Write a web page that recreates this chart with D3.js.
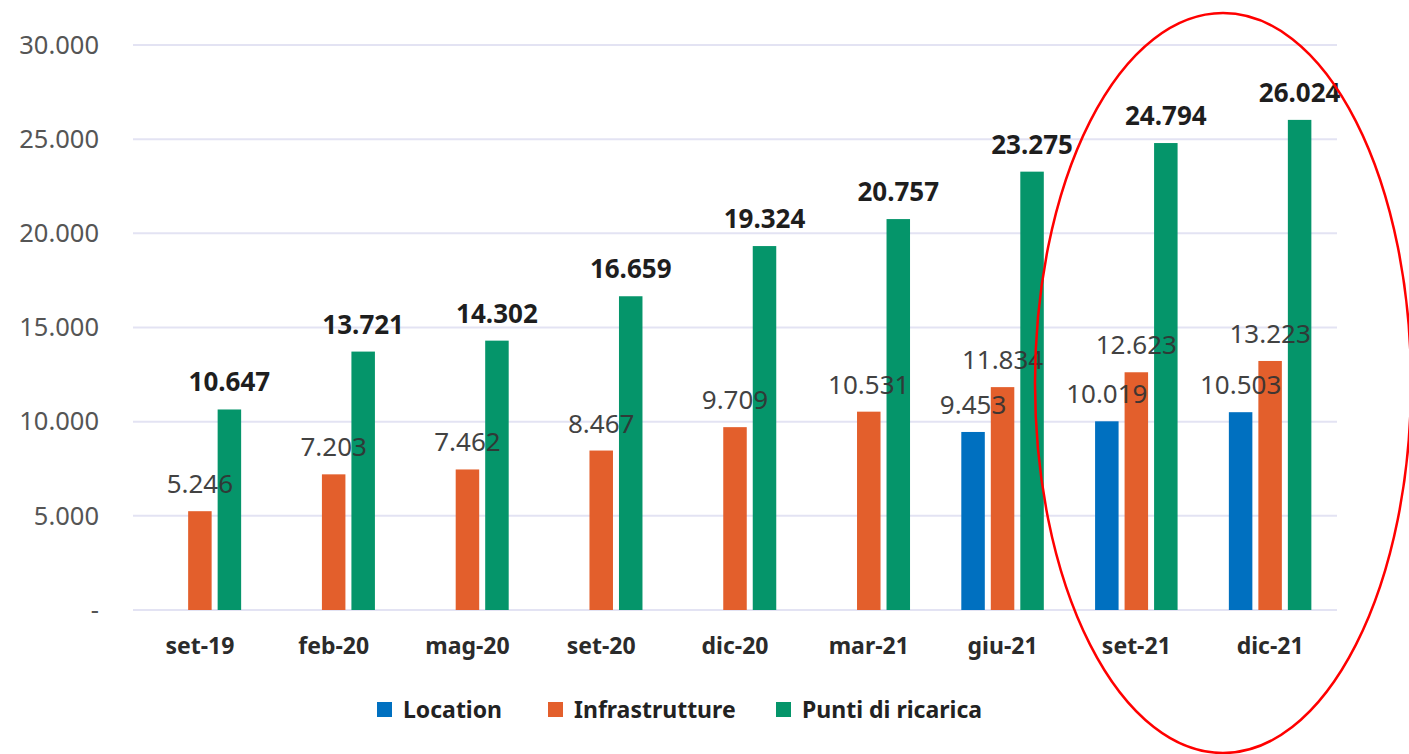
<!DOCTYPE html>
<html>
<head>
<meta charset="utf-8">
<script src="https://cdnjs.cloudflare.com/ajax/libs/d3/7.8.5/d3.min.js"></script>
<style>
  body { margin: 0; background: #fff; }
  svg { display: block; font-family: "Noto Sans", sans-serif; }
</style>
</head>
<body>
<div id="chart"></div>
<script>
// DATA
const categories = ["set-19", "feb-20", "mag-20", "set-20", "dic-20", "mar-21", "giu-21", "set-21", "dic-21"];
const seriesNames = ["Location", "Infrastrutture", "Punti di ricarica"];
const location_ = [null, null, null, null, null, null, 9453, 10019, 10503];
const infrastrutture = [5246, 7203, 7462, 8467, 9709, 10531, 11834, 12623, 13223];
const puntiRicarica = [10647, 13721, 14302, 16659, 19324, 20757, 23275, 24794, 26024];
const yTicks = [0, 5000, 10000, 15000, 20000, 25000, 30000];
const colors = ["#0070C0", "#E35F2C", "#05956A"];

const width = 1409, height = 754;
const margin = {left: 133, right: 72, top: 45, bottom: 144};

const svg = d3.select("#chart").append("svg")
  .attr("width", width)
  .attr("height", height);

const x = d3.scaleBand()
  .domain(categories)
  .range([margin.left, width - margin.right]);

const y = d3.scaleLinear()
  .domain([0, 30000])
  .range([height - margin.bottom, margin.top]);

const fmt = v => v === 0 ? "-" : d3.format(",")(v).replace(/,/g, ".");

// GRID
svg.append("g")
  .selectAll("line")
  .data(yTicks)
  .join("line")
  .attr("x1", margin.left)
  .attr("x2", width - margin.right)
  .attr("y1", d => y(d))
  .attr("y2", d => y(d))
  .attr("stroke", "#E3E3F3")
  .attr("stroke-width", 2);

// Y AXIS
const yAxis = d3.axisLeft(y).tickValues(yTicks).tickFormat(fmt).tickSize(0).tickPadding(34);
svg.append("g")
  .attr("transform", `translate(${margin.left},0)`)
  .call(yAxis)
  .call(g => g.select(".domain").remove())
  .selectAll("text")
  .attr("font-family", "Noto Sans")
  .attr("font-size", 25.5)
  .attr("fill", "#555");

// X AXIS
const xAxis = d3.axisBottom(x).tickSize(0).tickPadding(28);
svg.append("g")
  .attr("transform", `translate(0,${y(0)})`)
  .call(xAxis)
  .call(g => g.select(".domain").remove())
  .selectAll("text")
  .attr("font-family", "Noto Sans")
  .attr("font-size", 23)
  .attr("font-weight", "bold")
  .attr("fill", "#2b2b2b");

// BARS
const barW = 23.5, step = 29.5;
const series = [location_, infrastrutture, puntiRicarica];
const bars = [];
series.forEach((vals, s) => {
  vals.forEach((v, i) => {
    if (v == null) return;
    bars.push({s: s, cat: categories[i], value: v});
  });
});

svg.append("g")
  .selectAll("rect")
  .data(bars)
  .join("rect")
  .attr("x", d => x(d.cat) + x.bandwidth() / 2 + (d.s - 1) * step - barW / 2)
  .attr("y", d => y(d.value))
  .attr("width", barW)
  .attr("height", d => y(0) - y(d.value))
  .attr("fill", d => colors[d.s]);

// LABELS
svg.append("g")
  .selectAll("text")
  .data(bars)
  .join("text")
  .attr("x", d => x(d.cat) + x.bandwidth() / 2 + (d.s - 1) * step)
  .attr("y", d => y(d.value) - 18)
  .attr("text-anchor", "middle")
  .attr("font-size", 26)
  .attr("font-weight", d => d.s === 2 ? "bold" : "normal")
  .attr("fill", d => d.s === 2 ? "#1e1e1e" : "#333")
  .attr("opacity", d => d.s === 2 ? 1 : 0.92)
  .text(d => fmt(d.value));

// LEGEND
const legendX = [377, 548, 776];
const legend = svg.append("g")
  .selectAll("g")
  .data(seriesNames)
  .join("g")
  .attr("transform", (d, i) => `translate(${legendX[i]},710)`);
legend.append("rect")
  .attr("x", 0).attr("y", -8)
  .attr("width", 15).attr("height", 15)
  .attr("fill", (d, i) => colors[i]);
legend.append("text")
  .attr("x", 26)
  .attr("y", 0)
  .attr("dy", "0.35em")
  .attr("font-size", 23)
  .attr("font-weight", "bold")
  .attr("fill", "#222")
  .text(d => d);

// HIGHLIGHT ELLIPSE
svg.append("ellipse")
  .attr("cx", 1223)
  .attr("cy", 383)
  .attr("rx", 188)
  .attr("ry", 370)
  .attr("fill", "none")
  .attr("stroke", "#FF0000")
  .attr("stroke-width", 2.5);
</script>
</body>
</html>
